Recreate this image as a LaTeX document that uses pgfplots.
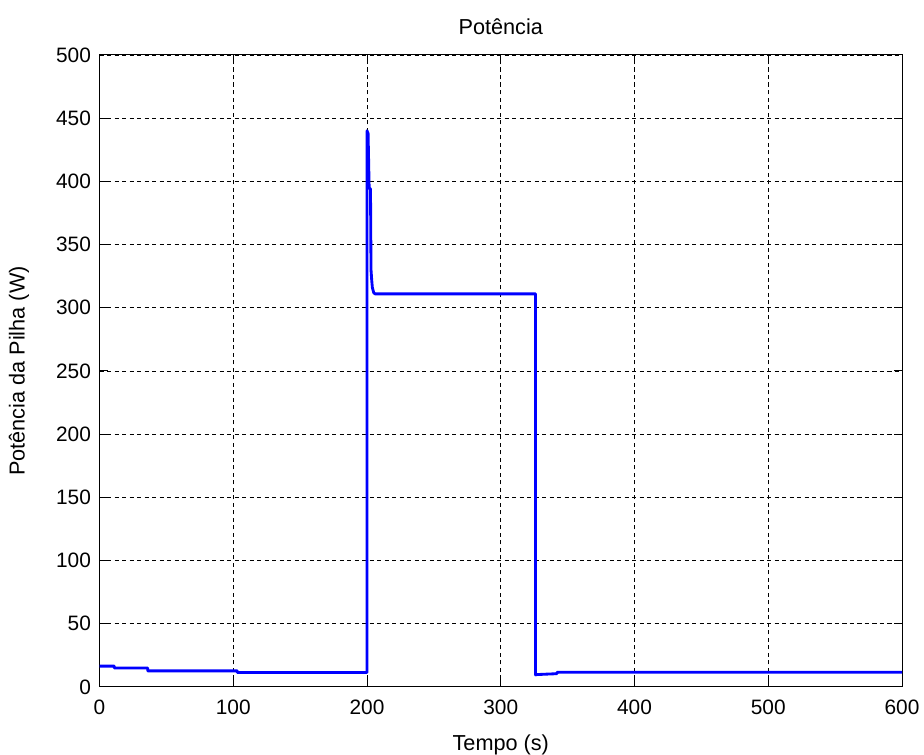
\documentclass[border=0pt]{standalone}
\usepackage{pgfplots}
\pgfplotsset{compat=1.18}
\usepackage{fontspec}
\setmainfont{Liberation Sans}
\begin{document}
\begin{tikzpicture}[x=1pt,y=1pt]
\begin{axis}[
  scale only axis,
  width=481.4pt, height=379.1pt,
  xmin=0, xmax=600, ymin=0, ymax=500,
  xtick={0,100,...,600}, ytick={0,50,...,500},
  grid=major,
  major grid style={black, dash pattern=on 2.6pt off 1.9pt, line width=0.55pt},
  axis line style={black, line width=0.6pt},
  tick style={black, line width=0.6pt},
  major tick length=4.8pt,
  tick align=inside,
  xtick pos=both, ytick pos=both,
  /pgf/number format/assume math mode=true,
  ticklabel style={font=\fontsize{12.5}{14}\selectfont},
  xticklabel style={anchor=base, inner sep=0pt, yshift=-16.8pt},
  yticklabel style={anchor=east, inner sep=0pt, xshift=-5pt},
  every axis title shift=0pt,
  title={Potência},
  title style={font=\fontsize{13}{15}\selectfont, at={(axis description cs:0.5,1.0443)}, anchor=center},
  xlabel={Tempo (s)},
  xlabel style={font=\fontsize{13}{15}\selectfont, at={(axis description cs:0.5,-0.0918)}, anchor=center},
  ylabel={Potência da Pilha (W)},
  ylabel style={font=\fontsize{13}{15}\selectfont, at={(axis description cs:-0.1003,0.5)}, anchor=center, rotate=0},
]
\addplot[blue, line width=1.7pt, line join=round] coordinates {
(0,16.5) (11,16.5) (11,15) (36,15) (36,12.7) (103,12.7) (103,11.4) (200,11.4)
(200,440) (200.8,438) (201.6,395) (202.6,394) (203,330) (203.5,322) (204,316) (205,312) (206,311)
(326,311) (326,9.5) (327,9.8) (342,10.5) (342,11.6) (600,11.6)
};
\coordinate (bl) at (rel axis cs:0,0);
\coordinate (tr) at (rel axis cs:1,1);
\end{axis}
\pgfresetboundingbox
\path ([shift={(-59.7pt,-40.8pt)}]bl) rectangle ([shift={(13.2pt,33pt)}]tr);
\end{tikzpicture}
\end{document}
